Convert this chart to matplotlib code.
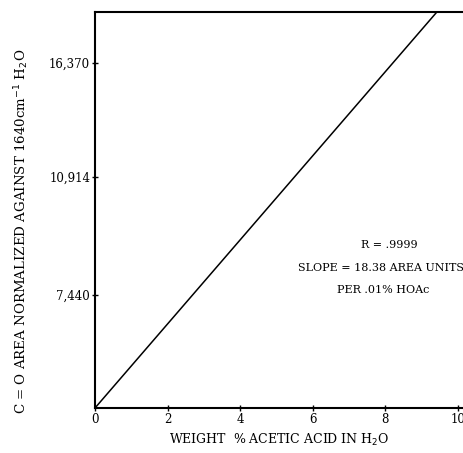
import numpy as np
import matplotlib.pyplot as plt

# calibration line: weight % acetic acid vs normalized C=O area
x_pct = [0, 9.42]
area = [0, 18780]

xticks = [0, 2, 4, 6, 8, 10]
ytick_pos = [5360, 10950, 16370]
ytick_labels = ['7,440', '10,914', '16,370']

plt.rcParams['font.family'] = ['DejaVu Serif']

fig = plt.figure(figsize=(4.63, 4.53), dpi=100)
ax = fig.add_axes([95/463, 45/453, 1 - 95/463, (408 - 12)/453])

ax.plot(x_pct, area, color='black', linewidth=1.1)

ax.set_xlim(0, 10.14)
ax.set_ylim(0, 18780)
ax.set_xticks(xticks)
ax.set_xticklabels([str(t) for t in xticks], fontsize=8.5)
ax.set_yticks(ytick_pos)
ax.set_yticklabels(ytick_labels, fontsize=8.5)
ax.tick_params(direction='inout', length=5, width=1, pad=1)

ax.spines['right'].set_visible(False)
for s in ['left', 'bottom', 'top']:
    ax.spines[s].set_linewidth(1.5)

ax.set_xlabel('WEIGHT  % ACETIC ACID IN H$_2$O', fontsize=9, labelpad=4)
ax.set_ylabel('C = O AREA NORMALIZED AGAINST 1640cm$^{-1}$ H$_2$O', fontsize=9.6)
ax.yaxis.set_label_coords(-0.175, 0.445)

ax.text(8.1, 7730, 'R = .9999', ha='center', va='center', fontsize=8)
ax.text(7.88, 6640, 'SLOPE = 18.38 AREA UNITS', ha='center', va='center', fontsize=8)
ax.text(7.95, 5600, 'PER .01% HOAc', ha='center', va='center', fontsize=8)

plt.savefig('out.png', dpi=100)
